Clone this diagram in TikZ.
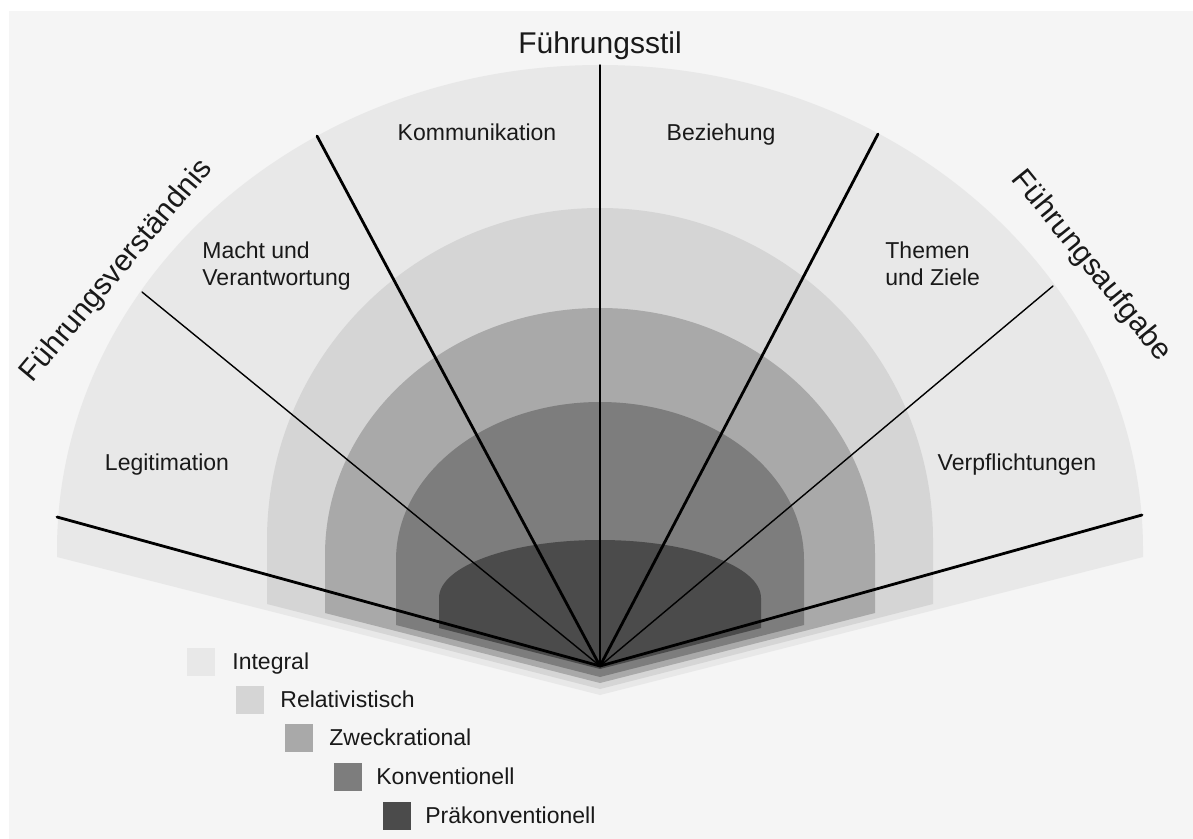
\documentclass[tikz,border=0pt]{standalone}
\usepackage{fontspec}
\setmainfont{Liberation Sans}
\definecolor{bgc}{HTML}{F5F5F5}
\definecolor{cint}{HTML}{E8E8E8}
\definecolor{crel}{HTML}{D5D5D5}
\definecolor{czwe}{HTML}{A9A9A9}
\definecolor{ckon}{HTML}{7D7D7D}
\definecolor{cpra}{HTML}{4B4B4B}
\begin{document}
\begin{tikzpicture}[x=0.5pt,y=-0.5pt,
  lbl/.style={font=\fontsize{11.5}{13.5}\selectfont, inner sep=0pt, text=black!90},
  ttl/.style={font=\fontsize{15}{18}\selectfont, inner sep=0pt, text=black!90},
  thickray/.style={line width=1.4pt, line cap=round},
  thinray/.style={line width=0.7pt, line cap=round},
  legsq/.style={minimum size=14.25pt, inner sep=0pt, draw=none}]
\useasboundingbox (0,0) rectangle (1193,839);
\fill[white] (0,0) rectangle (1193,839);
\fill[bgc] (9,11) rectangle (1193,839);

% layers
\fill[cint] (57,550) arc[start angle=180,end angle=360,x radius=543,y radius=485]
  -- (1143,557) -- (600,695) -- (57,557) -- cycle;
\fill[crel] (267,540) arc[start angle=180,end angle=360,x radius=333,y radius=332]
  -- (933,604) -- (600,689) -- (267,604) -- cycle;
\fill[czwe] (325,555) arc[start angle=180,end angle=360,x radius=275,y radius=247]
  -- (875,613) -- (600,683) -- (325,613) -- cycle;
\fill[ckon] (396,560) arc[start angle=180,end angle=360,x radius=204,y radius=158]
  -- (804,625) -- (600,677) -- (396,625) -- cycle;
\fill[cpra] (439,598) arc[start angle=180,end angle=360,x radius=161,y radius=58]
  -- (761,628) -- (600,669) -- (439,628) -- cycle;

% rays
\coordinate (C) at (600,666);
\coordinate (r1) at (57,517);
\coordinate (r2) at (142,292);
\coordinate (r3) at (317,136);
\coordinate (r4) at (600,65);
\coordinate (r5) at (878,134);
\coordinate (r6) at (1053,286);
\coordinate (r7) at (1142,515);
\draw[thickray] (C) -- (r1);
\draw[thinray] (C) -- (r2);
\draw[thickray] (C) -- (r3);
\draw[thinray] (C) -- (r4);
\draw[thickray] (C) -- (r5);
\draw[thinray] (C) -- (r6);
\draw[thickray] (C) -- (r7);

% titles
\node[ttl, anchor=base] (tstil) at (600,54) {Führungsstil};
\node[ttl, rotate=50] (tverst) at (117,271) {Führungsverständnis};
\node[ttl, rotate=-51] (tauf) at (1091,266) {Führungsaufgabe};

% sector labels
\node[lbl, anchor=base] (kom) at (477,141) {Kommunikation};
\node[lbl, anchor=base] (bez) at (721,141) {Beziehung};
\node[lbl, anchor=north west, align=left] (macht) at (202,241) {Macht und\\Verantwortung};
\node[lbl, anchor=north west, align=left] (them) at (885,241) {Themen\\und Ziele};
\node[lbl, anchor=base] (leg) at (167,470) {Legitimation};
\node[lbl, anchor=base] (verp) at (1017,470) {Verpflichtungen};

% legend
\node[legsq, fill=cint] (l1) at (201,662) {};
\node[legsq, fill=crel] (l2) at (250,700) {};
\node[legsq, fill=czwe] (l3) at (299,738) {};
\node[legsq, fill=ckon] (l4) at (348,777) {};
\node[legsq, fill=cpra] (l5) at (397,816) {};
\node[lbl, anchor=base west] (t1) at (232,669) {Integral};
\node[lbl, anchor=base west] (t2) at (280,707) {Relativistisch};
\node[lbl, anchor=base west] (t3) at (329,745) {Zweckrational};
\node[lbl, anchor=base west] (t4) at (376,784) {Konventionell};
\node[lbl, anchor=base west] (t5) at (425,823) {Präkonventionell};
\end{tikzpicture}
\end{document}
